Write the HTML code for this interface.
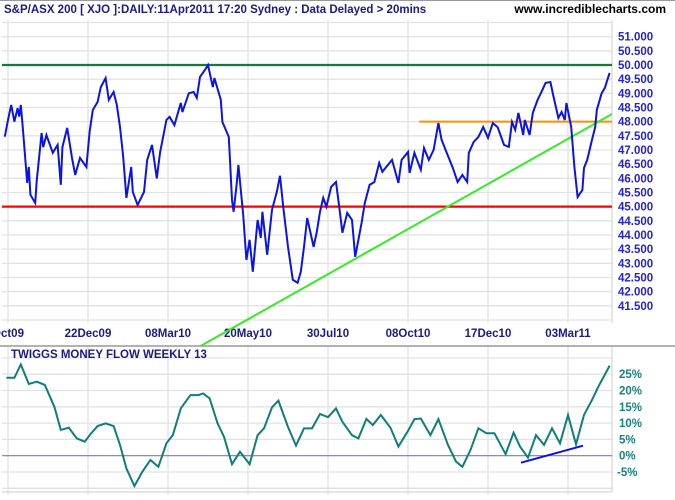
<!DOCTYPE html>
<html><head><meta charset="utf-8"><style>
html,body{margin:0;padding:0;background:#fff;}
svg{display:block;font-family:"Liberation Sans",Arial,sans-serif;font-weight:bold;}
</style></head><body>
<svg id="chart" width="675" height="500" viewBox="0 0 675 500" xmlns="http://www.w3.org/2000/svg">
<rect x="0" y="0" width="675" height="500" fill="#fff"/>
<line x1="0" y1="0.5" x2="675" y2="0.5" stroke="#999"/>
<g id="grid"></g>
<g id="lines"></g>
<text x="4" y="13" font-size="11.5" fill="#1a1a8c">S&amp;P/ASX 200 [ XJO ]:DAILY:11Apr2011 17:20 Sydney : Data Delayed &gt; 20mins</text>
<text x="666" y="13" font-size="12" fill="#000" text-anchor="end">www.incrediblecharts.com</text>
<text x="11" y="358" font-size="11.5" fill="#1a1a8c">TWIGGS MONEY FLOW WEEKLY 13</text>
</svg>
<script>
const xLabels=["Oct09","22Dec09","08Mar10","20May10","30Jul10","08Oct10","17Dec10","03Mar11"];
const xLabelDays=[0,50,100,150,200,250,300,350];
const priceTicks=[41.5,42,42.5,43,43.5,44,44.5,45,45.5,46,46.5,47,47.5,48,48.5,49,49.5,50,50.5,51];
const tmfTicks=[-5,0,5,10,15,20,25];
const priceDays=[-2,0,2,4,6,7,8,9,12,13,14,17,18,21,22,24,28,31,33,34,37,40,42,45,49,51,53,56,58,61,63,66,68,70,72,74,77,78,81,85,87,90,93,95,99,101,104,108,109,113,116,118,120,123,125,128,129,133,134,138,140,141,143,144,147,149,151,153,156,158,159,162,165,168,170,172,175,178,181,183,185,187,191,193,195,197,199,202,205,207,209,212,215,217,219,221,223,226,229,232,234,240,244,246,250,251,254,258,260,263,266,269,271,274,278,281,284,287,288,291,294,297,300,303,306,310,313,315,317,319,322,323,326,328,331,334,336,339,341,344,346,348,349,352,354,356,359,360,362,365,367,368,371,373,376];
const priceVals=[47.47,48.06,48.59,48.0,48.48,48.18,48.59,47.95,45.84,46.4,45.42,45.13,45.94,47.6,47.1,47.53,46.9,47.18,45.77,47.1,47.78,46.72,46.12,46.72,46.4,47.64,48.41,48.7,49.22,49.54,48.77,49.05,48.59,47.81,46.76,45.31,46.4,45.52,45.06,45.52,46.65,47.18,46.0,46.9,48.06,48.17,47.88,48.66,48.34,49.0,49.05,48.84,49.58,49.82,50.0,49.22,49.54,48.77,47.99,47.46,45.24,44.82,45.84,46.47,44.71,43.12,43.83,42.70,44.53,43.9,44.82,43.3,44.89,45.52,46.09,45.0,43.58,42.42,42.31,42.7,43.58,44.6,43.58,44.11,44.82,45.31,45.0,45.7,45.87,45.0,44.08,44.78,44.53,43.23,43.83,44.43,45.13,45.77,45.87,46.54,46.23,46.65,45.84,46.65,46.93,46.19,46.9,46.30,47.07,46.65,47.0,47.95,47.36,46.93,46.37,45.87,46.12,45.87,46.9,47.28,47.46,47.81,47.43,47.95,47.81,47.18,47.11,47.99,47.71,48.31,47.53,48.06,47.53,48.31,48.77,49.12,49.37,49.40,48.87,48.13,48.34,48.06,48.66,47.81,46.4,45.34,45.59,46.37,46.65,47.36,47.81,48.41,49.0,49.19,49.72];
const tmfDays=[-1,4,8,13,18,23,29,33,38,43,48,52,56,61,66,70,74,79,84,89,94,99,103,108,114,119,122,126,131,135,140,145,151,156,160,165,169,175,180,185,190,195,200,205,209,215,219,224,228,233,239,244,250,254,258,264,269,275,280,284,289,294,299,304,311,316,320,325,330,335,340,345,350,355,360,365,369,376];
const tmfVals=[23.9,23.9,28.0,22.0,22.7,21.7,15.0,7.9,8.6,5.3,4.3,6.9,9.1,9.9,9.1,3.3,-3.9,-9.3,-4.9,-1.3,-3.4,3.8,6.3,14.5,18.6,18.6,19.1,17.6,9.9,5.8,-2.6,1.2,-2.6,6.3,8.4,14.8,16.9,8.8,3.1,8.4,8.4,12.8,11.8,14.5,10.4,6.3,5.3,11.3,9.4,12.5,8.6,2.8,7.6,11.2,11.4,6.3,11.2,3.3,-1.8,-3.4,1.7,8.4,6.9,6.9,0.5,7.1,2.8,-0.6,6.3,3.3,8.4,3.8,12.5,3.5,12.5,17.1,21.2,27.6];
const resistanceLevel=[50];
const supportLevel=[45];
const orangeLevel=[48];
const orangeStartDay=[257];
const trendDays=[182.5,377.5];
const trendVals=[42.06,48.27];
const tmfTrendDays=[320.6,359.4];
const tmfTrendVals=[-2.15,3.07];

const NS="http://www.w3.org/2000/svg";
const L=2,R=612,PT=20,PB=323,BT=347,BB=492;
const xd=d=>8+d*1.6;
const yp=v=>65+(50-v)*28.33;
const yt=v=>455.7-v*3.26;
function mk(tag,attrs,parent){const e=document.createElementNS(NS,tag);for(const k in attrs)e.setAttribute(k,attrs[k]);parent.appendChild(e);return e;}
const grid=document.getElementById('grid'),lines=document.getElementById('lines');
// clip paths
const defs=mk('defs',{},grid);
const c1=mk('clipPath',{id:'cTop'},defs);mk('rect',{x:L,y:PT,width:R-L,height:346-PT},c1);
const c2=mk('clipPath',{id:'cBot'},defs);mk('rect',{x:L,y:BT,width:R-L,height:BB-BT},c2);
// horizontal grid top
for(let v=41;v<=51.5;v+=0.5){const y=yp(v);if(y<PT||y>PB)continue;
 const g=mk('line',{x1:L,x2:R,y1:y,y2:y,stroke:'#e2e2e2','stroke-width':1.3},grid);
 
 }
for(let v=-10;v<=30;v+=5){const y=yt(v);if(y<BT||y>BB)continue;if(v===0)continue;
 const g=mk('line',{x1:L,x2:R,y1:y,y2:y,stroke:'#e2e2e2','stroke-width':1.3},grid);
 
 }
xLabelDays.forEach((d,i)=>{const x=xd(d);
 const a=mk('line',{x1:x,x2:x,y1:PT,y2:PB,stroke:'#e2e2e2','stroke-width':1.3},grid);
 
 
 const b=mk('line',{x1:x,x2:x,y1:BT,y2:BB+3,stroke:'#e2e2e2','stroke-width':1.3},grid);
 
 
 const t=mk('text',{x:x,y:337,'font-size':11.5,fill:'#1a1a8c','text-anchor':'middle'},grid);t.textContent=xLabels[i];
 
 });
// frame lines
[[R,PT,R,PB],[R,BT,R,BB],[L,BB,R,BB]].forEach(c=>{const e=mk('line',{x1:c[0],y1:c[1],x2:c[2],y2:c[3],stroke:'#d8d8d8','stroke-width':1.3},grid);
 
 });
const sep=mk('line',{x1:0,x2:675,y1:346,y2:346,stroke:'#999','stroke-width':1.5},grid);


// axis labels
priceTicks.forEach(v=>{const t=mk('text',{x:618,y:yp(v)+4,'font-size':11.5,fill:'#2323d8'},grid);t.textContent=v.toFixed(3);
 
 });
tmfTicks.forEach(v=>{const t=mk('text',{x:v<0?617:619,y:yt(v)+4,'font-size':11.5,fill:'#1a8080'},grid);t.textContent=v+'%';
 
 });
// zero line
const z=mk('line',{x1:L,x2:R,y1:yt(0),y2:yt(0),stroke:'#7777cc','stroke-width':1.2},lines);


// horizontal levels
const gl=mk('line',{x1:L,x2:R,y1:yp(resistanceLevel[0]),y2:yp(resistanceLevel[0]),stroke:'#137a3c','stroke-width':2.2},lines);


const rl=mk('line',{x1:L,x2:R,y1:yp(supportLevel[0]),y2:yp(supportLevel[0]),stroke:'#ff0000','stroke-width':2.2},lines);


const ol=mk('line',{x1:xd(orangeStartDay[0]),x2:R,y1:yp(orangeLevel[0]),y2:yp(orangeLevel[0]),stroke:'#ff8c00','stroke-width':2},lines);


// trendline extended
{const x1=xd(trendDays[0]),y1=yp(trendVals[0]),x2=xd(trendDays[1]),y2=yp(trendVals[1]);const s=(y2-y1)/(x2-x1);
 const xa=x1+(346-y1)/s;
 const tl=mk('line',{x1:xa,y1:346,x2:x2,y2:y2,stroke:'#33ee22','stroke-width':2,'clip-path':'url(#cTop)'},lines);
 
 }
// price series
const pp=mk('polyline',{points:priceDays.map((d,i)=>xd(d)+','+yp(priceVals[i])).join(' '),fill:'none',stroke:'#0a14e6','stroke-width':2,'stroke-linejoin':'miter'},lines);


// tmf
const tp=mk('polyline',{points:tmfDays.map((d,i)=>xd(d)+','+yt(tmfVals[i])).join(' '),fill:'none',stroke:'#0e7f78','stroke-width':2},lines);


const bt=mk('line',{x1:xd(tmfTrendDays[0]),y1:yt(tmfTrendVals[0]),x2:xd(tmfTrendDays[1]),y2:yt(tmfTrendVals[1]),stroke:'#1010ee','stroke-width':2},lines);


</script>
</body></html>
